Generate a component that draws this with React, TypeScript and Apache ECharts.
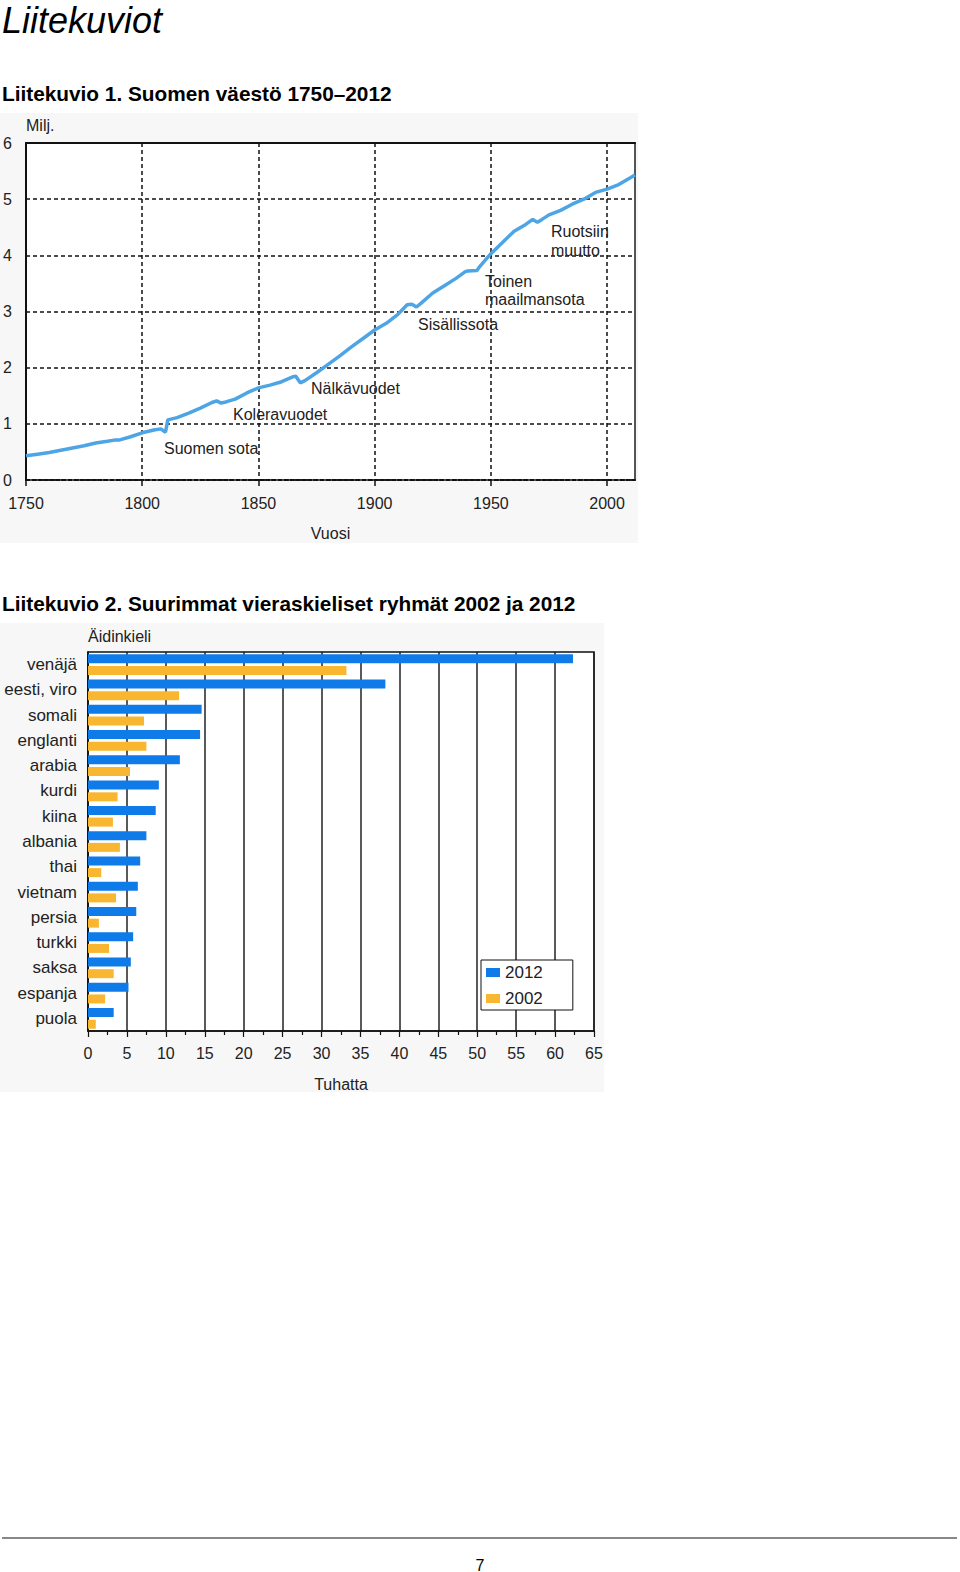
import React, { useEffect, useRef } from "react";
import * as echarts from "echarts";

// Liitekuvio 1: Suomen väestö (milj.)
const popYears = [
  1750, 1755, 1760, 1765, 1770, 1775, 1780, 1785, 1788, 1790, 1795, 1800, 1805, 1808, 1810, 1811,
  1815, 1820, 1825, 1830, 1832, 1834, 1836, 1840, 1845, 1850, 1855, 1860, 1865, 1866, 1868, 1870,
  1875, 1880, 1885, 1890, 1895, 1900, 1905, 1910, 1914, 1916, 1918, 1920, 1925, 1930, 1935, 1939,
  1940, 1944, 1945, 1950, 1955, 1960, 1965, 1968, 1970, 1972, 1975, 1980, 1985, 1990, 1995, 2000,
  2005, 2010, 2012,
];
const popValues = [
  0.43, 0.46, 0.49, 0.53, 0.57, 0.61, 0.66, 0.69, 0.71, 0.71, 0.77, 0.84, 0.89, 0.91, 0.85, 1.07,
  1.11, 1.19, 1.28, 1.38, 1.41, 1.37, 1.39, 1.44, 1.55, 1.64, 1.69, 1.75, 1.84, 1.85, 1.73, 1.77,
  1.91, 2.06, 2.21, 2.37, 2.52, 2.67, 2.79, 2.95, 3.12, 3.13, 3.08, 3.15, 3.33, 3.46, 3.59, 3.71,
  3.72, 3.73, 3.79, 4.03, 4.23, 4.43, 4.55, 4.64, 4.59, 4.64, 4.72, 4.80, 4.91, 5.0, 5.12, 5.18,
  5.26, 5.38, 5.43,
];

// Liitekuvio 2: Suurimmat vieraskieliset ryhmät (tuhatta)
const languages = [
  "venäjä", "eesti, viro", "somali", "englanti", "arabia", "kurdi", "kiina", "albania",
  "thai", "vietnam", "persia", "turkki", "saksa", "espanja", "puola",
];
const speakers2012 = [62.3, 38.2, 14.6, 14.4, 11.8, 9.1, 8.7, 7.5, 6.7, 6.4, 6.2, 5.8, 5.5, 5.2, 3.3];
const speakers2002 = [33.2, 11.7, 7.2, 7.5, 5.4, 3.8, 3.2, 4.1, 1.7, 3.6, 1.4, 2.7, 3.3, 2.2, 1.0];

const FONT = '"Liberation Sans", Arial, sans-serif';
const INK = "#222";

export default function App() {
  const ref = useRef<HTMLDivElement>(null);

  useEffect(() => {
    if (!ref.current) return;
    const chart = echarts.init(ref.current, undefined, { renderer: "svg" });

    const txt = (text: string, x: number, y: number, size: number, extra: any = {}) => ({
      type: "text",
      x,
      y,
      z: 100,
      style: {
        text,
        fontSize: size,
        fontFamily: FONT,
        fill: INK,
        textVerticalAlign: "middle",
        textAlign: "left",
        ...extra,
      },
    });

    chart.setOption({
      animation: false,
      backgroundColor: "#fff",
      textStyle: { fontFamily: FONT },
      graphic: [
        { type: "rect", z: -100, shape: { x: 0, y: 113, width: 638, height: 430 }, style: { fill: "#f7f7f7" } },
        { type: "rect", z: -100, shape: { x: 0, y: 623, width: 604, height: 469 }, style: { fill: "#f7f7f7" } },
        txt("Liitekuviot", 2, 20, 36, { fontStyle: "italic", fill: "#000" }),
        txt("Liitekuvio 1. Suomen väestö 1750–2012", 2, 93, 20.8, { fontWeight: "bold", fill: "#000" }),
        txt("Liitekuvio 2. Suurimmat vieraskieliset ryhmät 2002 ja 2012", 2, 603, 20.8, { fontWeight: "bold", fill: "#000" }),
        txt("Suomen sota", 164, 448, 16),
        txt("Koleravuodet", 233, 414, 16),
        txt("Nälkävuodet", 311, 388, 16),
        txt("Sisällissota", 418, 324, 16),
        txt("Toinen", 485, 281, 16),
        txt("maailmansota", 485, 299, 16),
        txt("Ruotsiin", 551, 231, 16),
        txt("muutto", 551, 250, 16),
        txt("Äidinkieli", 88, 636, 16),
        { type: "line", z: 100, shape: { x1: 2, y1: 1538, x2: 957, y2: 1538 }, style: { stroke: "#888", lineWidth: 2 } },
        txt("7", 480, 1565, 16, { textAlign: "center", fill: "#000" }),
      ],
      grid: [
        { left: 26, top: 143, width: 609, height: 337, show: true, backgroundColor: "#fff", borderWidth: 0 },
        { left: 88, top: 652, width: 506, height: 379, show: true, backgroundColor: "#fff", borderColor: "#111", borderWidth: 1.5 },
      ],
      xAxis: [
        {
          gridIndex: 0,
          type: "value",
          min: 1750,
          max: 2012,
          interval: 50,
          name: "Vuosi",
          nameLocation: "middle",
          nameGap: 45,
          nameTextStyle: { fontSize: 16, color: INK, fontFamily: FONT },
          axisLine: { show: true, onZero: false, lineStyle: { color: "#111", width: 2, type: [4, 2] } },
          axisTick: { show: true, length: 6, lineStyle: { color: "#111", width: 1.5 } },
          axisLabel: {
            showMaxLabel: false,
            margin: 15,
            fontSize: 16,
            color: INK,
            fontFamily: FONT,
            formatter: (v: number) => String(v),
          },
          splitLine: { show: true, lineStyle: { color: "#111", width: 1.5, type: [4, 3] } },
        },
        {
          gridIndex: 0,
          type: "value",
          min: 1750,
          max: 2012,
          position: "top",
          axisLine: { show: true, onZero: false, lineStyle: { color: "#111", width: 2 } },
          axisTick: { show: false },
          axisLabel: { show: false },
          splitLine: { show: false },
        },
        {
          gridIndex: 1,
          type: "value",
          min: 0,
          max: 65,
          interval: 5,
          name: "Tuhatta",
          nameLocation: "middle",
          nameGap: 45,
          nameTextStyle: { fontSize: 16, color: INK, fontFamily: FONT },
          axisLine: { show: true, onZero: false, lineStyle: { color: "#111", width: 1.5 } },
          axisTick: { show: true, length: 6, lineStyle: { color: "#111", width: 1.2 } },
          minorTick: { show: true, splitNumber: 2, length: 4, lineStyle: { color: "#111", width: 1.2 } },
          axisLabel: { margin: 14, fontSize: 16, color: INK, fontFamily: FONT },
          splitLine: { show: true, lineStyle: { color: "#222", width: 1.5 } },
        },
      ],
      yAxis: [
        {
          gridIndex: 0,
          type: "value",
          min: 0,
          max: 6,
          interval: 1,
          name: "Milj.",
          nameLocation: "end",
          nameGap: 10,
          nameTextStyle: { fontSize: 16, color: INK, align: "left", fontFamily: FONT },
          axisLine: { show: true, onZero: false, lineStyle: { color: "#111", width: 2 } },
          axisTick: { show: false },
          axisLabel: { margin: 14, fontSize: 16, color: INK, fontFamily: FONT },
          splitLine: { show: true, lineStyle: { color: "#111", width: 1.5, type: [4, 3] } },
        },
        {
          gridIndex: 0,
          type: "value",
          min: 0,
          max: 6,
          position: "right",
          axisLine: { show: true, onZero: false, lineStyle: { color: "#555", width: 2 } },
          axisTick: { show: false },
          axisLabel: { show: false },
          splitLine: { show: false },
        },
        {
          gridIndex: 1,
          type: "category",
          data: languages,
          inverse: true,
          axisLine: { show: true, onZero: false, lineStyle: { color: "#111", width: 1.5 } },
          axisTick: { show: false },
          axisLabel: { margin: 11, fontSize: 17, color: INK, fontFamily: FONT },
          splitLine: { show: false },
        },
      ],
      legend: {
        data: ["2012", "2002"],
        orient: "vertical",
        left: 481,
        top: 960,
        backgroundColor: "#fff",
        borderColor: "#111",
        borderWidth: 1,
        borderRadius: 0,
        padding: [4, 30, 3, 5],
        itemWidth: 14,
        itemHeight: 9,
        itemGap: 9,
        icon: "rect",
        textStyle: { fontSize: 17, color: INK, fontFamily: FONT },
      },
      series: [
        {
          type: "line",
          xAxisIndex: 0,
          yAxisIndex: 0,
          data: popYears.map((y, i) => [y, popValues[i]]),
          showSymbol: false,
          lineStyle: { color: "#4ea5e6", width: 3.5 },
          itemStyle: { color: "#4ea5e6" },
        },
        {
          name: "2012",
          type: "bar",
          xAxisIndex: 2,
          yAxisIndex: 2,
          data: speakers2012,
          barWidth: 9,
          barGap: "30%",
          itemStyle: { color: "#0f7be8" },
        },
        {
          name: "2002",
          type: "bar",
          xAxisIndex: 2,
          yAxisIndex: 2,
          data: speakers2002,
          barWidth: 9,
          barGap: "30%",
          itemStyle: { color: "#f9b731" },
        },
      ],
    });

    return () => chart.dispose();
  }, []);

  return (
    <div
      ref={ref}
      style={{ position: "absolute", left: 0, top: 0, width: 960, height: 1572, background: "#fff" }}
    />
  );
}
